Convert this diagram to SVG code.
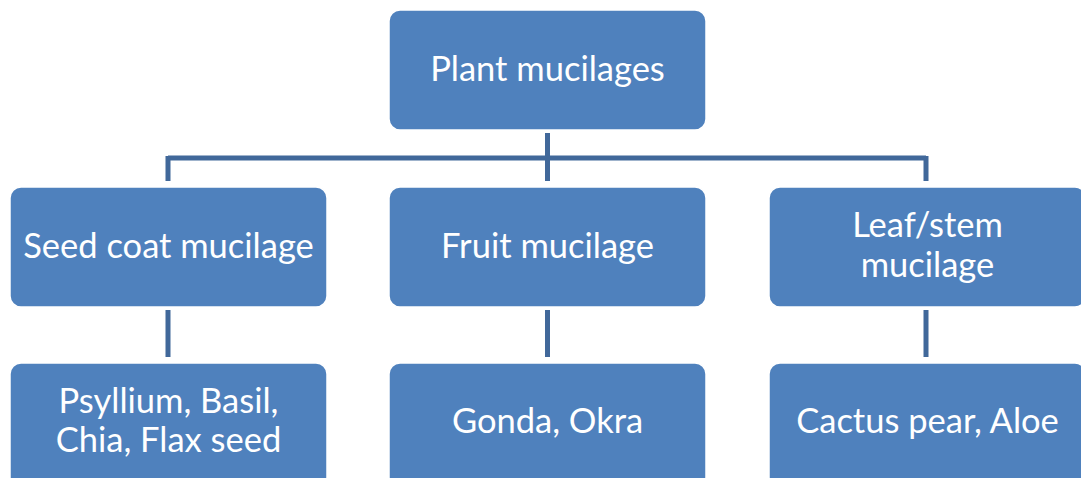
<svg xmlns="http://www.w3.org/2000/svg" width="1081" height="478" viewBox="0 0 1081 478">
<style>
.box{fill:#4F81BD;stroke:#FFFFFF;stroke-width:1.5}
.lbl{font-family:Lato,"Open Sans",sans-serif;font-size:34.5px;fill:#FFFFFF;text-anchor:middle}
.conn{stroke:#41689A;stroke-width:5;fill:none}
</style>
<rect width="1081" height="478" fill="#FFFFFF"/>
<g id="connectors">
<path class="conn" d="M547.5 133V181M168 158H926M168 156V181M926 156V181M547.5 156V181"/>
<path class="conn" d="M168 310V357M547.5 310V357M926 310V357"/>
</g>
<g id="n-plant"><rect class="box" x="389" y="10" width="317" height="120" rx="11"/><text class="lbl" x="547.5" y="81">Plant mucilages</text></g>
<g id="n-seed"><rect class="box" x="10" y="187" width="317" height="120" rx="11"/><text class="lbl" x="168.5" y="258">Seed coat mucilage</text></g>
<g id="n-fruit"><rect class="box" x="389" y="187" width="317" height="120" rx="11"/><text class="lbl" x="547.5" y="258">Fruit mucilage</text></g>
<g id="n-leaf"><rect class="box" x="769" y="187" width="317" height="120" rx="11"/><text class="lbl" x="927.5" y="237">Leaf/stem</text><text class="lbl" x="927.5" y="277">mucilage</text></g>
<g id="n-psyl"><rect class="box" x="10" y="363" width="317" height="125" rx="11"/><text class="lbl" x="168.5" y="413">Psyllium, Basil,</text><text class="lbl" x="168.5" y="452">Chia, Flax seed</text></g>
<g id="n-gonda"><rect class="box" x="389" y="363" width="317" height="125" rx="11"/><text class="lbl" x="547.5" y="433">Gonda, Okra</text></g>
<g id="n-cactus"><rect class="box" x="769" y="363" width="317" height="125" rx="11"/><text class="lbl" x="927.5" y="433">Cactus pear, Aloe</text></g>
</svg>
